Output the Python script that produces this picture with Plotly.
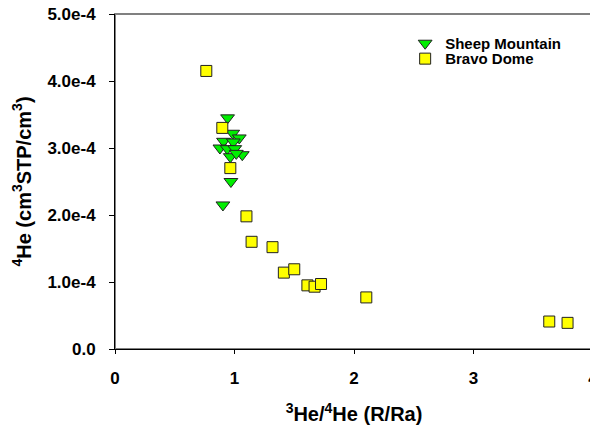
import plotly.graph_objects as go

# Sheep Mountain (3He/4He R/Ra, 4He cm3STP/cm3)
sheep_x = [0.942, 0.985, 1.040, 0.908, 0.990, 0.878, 0.940, 1.002, 1.065, 0.965, 1.015, 0.970, 0.903]
sheep_y = [3.45e-4, 3.22e-4, 3.15e-4, 3.10e-4, 3.09e-4, 3.00e-4, 2.99e-4, 2.99e-4, 2.90e-4, 2.87e-4, 2.92e-4, 2.50e-4, 2.15e-4]

# Bravo Dome
bravo_x = [0.764, 0.898, 0.965, 1.100, 1.143, 1.318, 1.413, 1.500, 1.610, 1.670, 1.724, 2.103, 3.634, 3.787]
bravo_y = [4.15e-4, 3.30e-4, 2.70e-4, 1.98e-4, 1.60e-4, 1.52e-4, 1.14e-4, 1.19e-4, 0.95e-4, 0.93e-4, 0.97e-4, 0.77e-4, 0.41e-4, 0.39e-4]

x_ticks = [0, 1, 2, 3, 4]
x_tick_text = ["0", "1", "2", "3", "4"]
y_ticks = [0, 1e-4, 2e-4, 3e-4, 4e-4, 5e-4]
y_tick_text = ["0.0", "1.0e-4", "2.0e-4", "3.0e-4", "4.0e-4", "5.0e-4"]

font = "Liberation Sans, Arial, sans-serif"

fig = go.Figure()
fig.add_trace(go.Scatter(
    x=sheep_x, y=sheep_y, mode="markers", name="<b>Sheep Mountain</b>", legend="legend",
    marker=dict(symbol="triangle-down", size=12, color="#00ee00",
                line=dict(color="#222222", width=1)),
))
fig.add_trace(go.Scatter(
    x=bravo_x, y=bravo_y, mode="markers", name="<b>Bravo Dome</b>", legend="legend2",
    marker=dict(symbol="square", size=11, color="#ffff00",
                line=dict(color="#222222", width=1)),
))

legend_common = dict(xanchor="left", yanchor="middle", bgcolor="rgba(0,0,0,0)",
                     font=dict(size=15, family=font, color="black"), borderwidth=0)

# page body has an 8px default margin: figure is sized/offset to compensate
fig.update_layout(
    width=590, height=417,
    margin=dict(l=107, r=5, t=6, b=76, autoexpand=False),
    paper_bgcolor="white", plot_bgcolor="white",
    font=dict(family=font, size=16, color="black"),
    showlegend=True,
    legend=dict(x=0.607, y=0.912, **legend_common),
    legend2=dict(x=0.607, y=0.866, **legend_common),
    xaxis=dict(range=[0, 4], tickvals=x_ticks, ticktext=["<b>%s</b>" % t for t in x_tick_text],
               showgrid=False, zeroline=False, automargin=False, ticklabeloverflow="allow",
               showline=True, linecolor="black", linewidth=1,
               ticks="outside", ticklen=4, tickcolor="black", ticklabelstandoff=10,
               tickfont=dict(size=17, family=font),
               title=dict(text="<b><sup>3</sup>He/<sup>4</sup>He (R/Ra)</b>",
                          font=dict(size=20, family=font), standoff=20)),
    yaxis=dict(range=[0, 5e-4], tickvals=y_ticks, ticktext=["<b>%s</b>" % t for t in y_tick_text],
               showgrid=False, automargin=False, ticklabeloverflow="allow",
               zeroline=False, showline=True, linecolor="black", linewidth=1,
               ticks="outside", ticklen=5, tickcolor="black", ticklabelstandoff=10,
               tickfont=dict(size=17, family=font),
               title=dict(text="<b><sup>4</sup>He (cm<sup>3</sup>STP/cm<sup>3</sup>)</b>",
                          font=dict(size=20, family=font), standoff=10)),
    shapes=[
        dict(type="rect", xref="paper", yref="paper", x0=0, x1=1, y0=0, y1=1,
             layer="below", line=dict(color="#808080", width=2)),
    ],
)

fig.write_html("out.html")
